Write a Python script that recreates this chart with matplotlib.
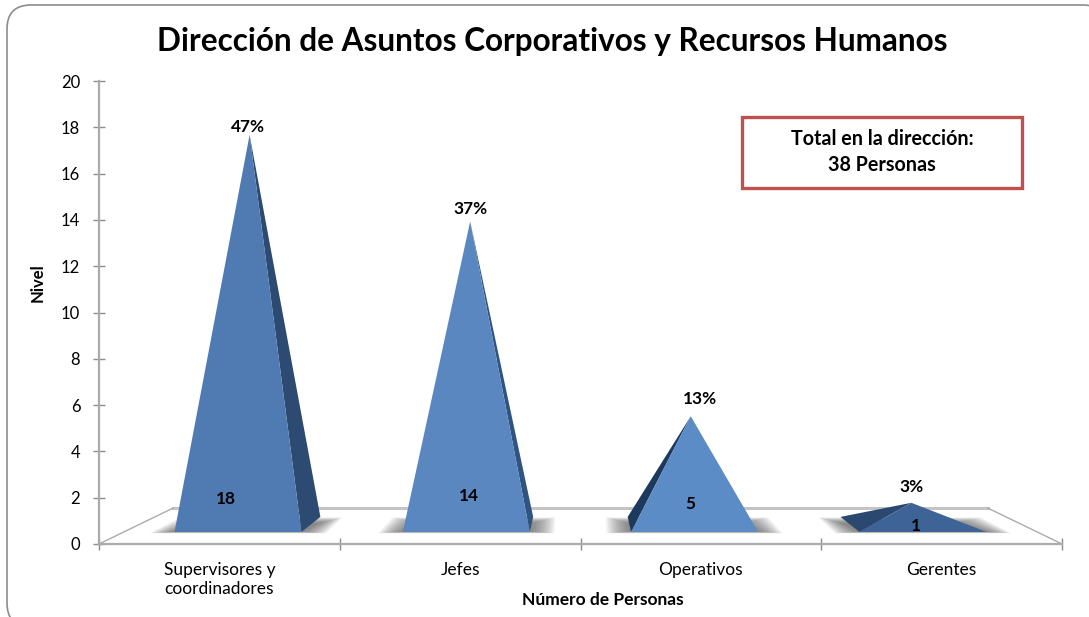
import matplotlib
matplotlib.use("Agg")
import matplotlib.pyplot as plt
from matplotlib.patches import FancyBboxPatch, Polygon, Rectangle

plt.rcParams['font.family'] = ['Lato', 'DejaVu Sans']

categories = ['Supervisores y\ncoordinadores', 'Jefes', 'Operativos', 'Gerentes']
personas = [18, 14, 5, 1]
porcentajes = ['47%', '37%', '13%', '3%']
y_ticks = [0, 2, 4, 6, 8, 10, 12, 14, 16, 18, 20]

front_colors = ['#4F7BB2', '#5A87BF', '#5C8CC6', '#3E6497']
side_colors = ['#2C4A72', '#2F5482', '#1D3A5C', '#2A4870']
GREY = '#ABABAB'

# label spots in figure pixels
count_pos = [(226, 499), (469, 496), (690, 504), (916, 526)]
pct_pos = [(248, 127), (471, 209), (700, 399), (911, 487)]

W, H = 1089, 617
fig = plt.figure(figsize=(W / 100, H / 100), dpi=100)

# pixel canvas behind the chart, the rounded frame runs off the right and bottom
back = fig.add_axes([0, 0, 1, 1], zorder=-1)
back.set_xlim(0, W)
back.set_ylim(H, 0)
back.axis('off')
back.add_patch(FancyBboxPatch((7, 5), 1100, 622, boxstyle="round,pad=0,rounding_size=24",
                              fc='white', ec='#8C8C8C', lw=1.2))

ax = fig.add_axes([99 / W, (H - 544) / H, 963 / W, 463 / H])
ax.set_xlim(0, 4)
ax.set_ylim(0, 20)
ax.patch.set_alpha(0)

# 3D look: floor depth d (in y units) pulls x towards the centre
VANISH = (580 - 99) / 963 * 4
HALF_W = 0.278
D_FRONT, D_MID, D_BACK, D_FLOOR = 0.52, 0.845, 1.17, 1.555
HEIGHT = 0.935


def project(x, d, h=0.0):
    k = 1 - 0.0992 * d
    return VANISH + (x - VANISH) * k, d + h


# floor
floor = [project(0, 0), project(4, 0), project(4, D_FLOOR), project(0, D_FLOOR)]
ax.add_patch(Polygon(floor, closed=True, fc='white', ec='none', zorder=1))
ax.plot(*zip(floor[3], floor[2]), color='#C4C4C4', lw=2.2, zorder=2)
ax.plot(*zip(floor[0], floor[3]), color=GREY, lw=1, zorder=2)
ax.plot(*zip(floor[1], floor[2]), color=GREY, lw=1, zorder=2)

for i, v in enumerate(personas):
    c = i + 0.5
    fl = project(c - HALF_W, D_FRONT)
    fr = project(c + HALF_W, D_FRONT)
    bl = project(c - HALF_W, D_BACK)
    br = project(c + HALF_W, D_BACK)
    apex = project(c, D_MID, HEIGHT * v)

    # soft shadow on the floor
    for s in range(1, 13):
        g = 0.0085 * s
        ax.add_patch(Polygon([(fl[0] - 0.11 + g, fl[1] - 0.06 + 0.006 * s), (fr[0] + 0.11 - g, fr[1] - 0.06 + 0.006 * s),
                              (br[0] + 0.1 - g, br[1] - 0.022 * s), (bl[0] - 0.1 + g, bl[1] - 0.022 * s)],
                             closed=True, fc='#555555', ec='none', alpha=0.085, zorder=3))

    # visible side face, then the front
    if i < 2:
        ax.add_patch(Polygon([fr, br, apex], closed=True, fc=side_colors[i], ec='none', zorder=4))
    else:
        ax.add_patch(Polygon([fl, bl, apex], closed=True, fc=side_colors[i], ec='none', zorder=4))
    ax.add_patch(Polygon([fl, fr, apex], closed=True, fc=front_colors[i], ec='none', zorder=5))

for s in ['top', 'right']:
    ax.spines[s].set_visible(False)
for s in ['left', 'bottom']:
    ax.spines[s].set_color(GREY)
    ax.spines[s].set_linewidth(1.6)
    ax.spines[s].set_zorder(2.5)

ax.set_yticks(y_ticks)
ax.set_xticks([0, 1, 2, 3, 4])
ax.set_xticklabels([])
ax.tick_params(axis='both', direction='inout', length=9, width=1, color='#8C8C8C',
               labelsize=12, labelcolor='black')
ax.tick_params(axis='y', pad=9)
ax.set_xticks([0.5, 1.5, 2.5, 3.5], categories, minor=True)
ax.tick_params(axis='x', which='minor', length=0, pad=13, labelsize=12.5)
for t in ax.get_xticklabels(minor=True):
    t.set_linespacing(1.2)

top = fig.add_axes([0, 0, 1, 1], zorder=10)
top.set_xlim(0, W)
top.set_ylim(H, 0)
top.axis('off')
top.patch.set_alpha(0)
for i, v in enumerate(personas):
    top.text(count_pos[i][0], count_pos[i][1], str(v), ha='center', va='center', fontsize=12.4,
             fontweight='bold', color='black')
    top.text(pct_pos[i][0], pct_pos[i][1], porcentajes[i], ha='center', va='center', fontsize=12.4,
             fontweight='bold', color='black')
top.text(552.5, 41, 'Dirección de Asuntos Corporativos y Recursos Humanos', ha='center', va='center',
         fontsize=22.7, fontweight='bold', color='black')
top.text(38, 283, 'Nivel', rotation=90, ha='center', va='center', fontsize=12, fontweight='bold')
top.text(603, 600, 'Número de Personas', ha='center', va='center', fontsize=12.5, fontweight='bold')
top.add_patch(Rectangle((741.5, 117), 280, 70.5, fc='white', ec='#C0504D', lw=2.4))
top.text(882, 139, 'Total en la dirección:', ha='center', va='center', fontsize=14.2, fontweight='bold')
top.text(882, 165, '38 Personas', ha='center', va='center', fontsize=14.2, fontweight='bold')

fig.savefig('out.png', dpi=100)
